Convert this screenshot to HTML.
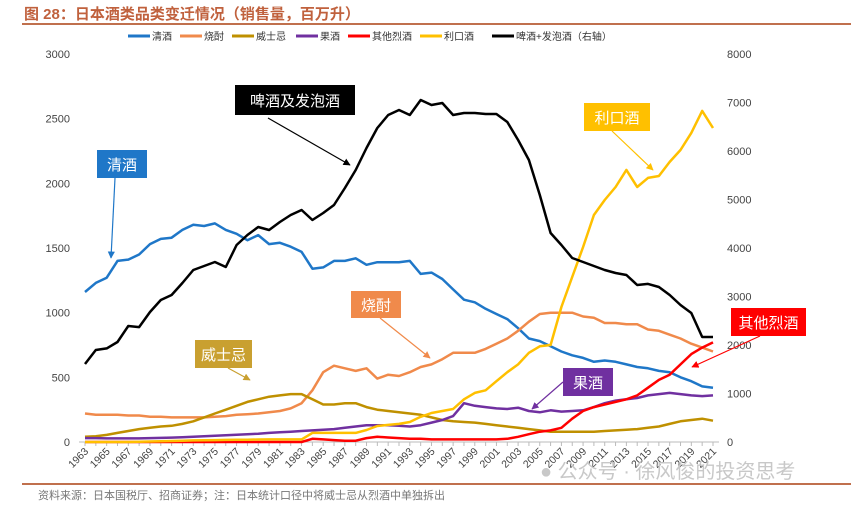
<!DOCTYPE html>
<html><head><meta charset="utf-8"><style>
body{margin:0;background:#fff;width:851px;height:507px;overflow:hidden;font-family:"Liberation Sans","Noto Sans CJK SC",sans-serif}
svg text{font-family:"Liberation Sans","Noto Sans CJK SC",sans-serif}
</style></head><body>
<svg id="c" width="851" height="507">
<defs><marker id="ah" viewBox="0 0 10 10" refX="9" refY="5" markerWidth="6" markerHeight="6" orient="auto-start-reverse"><path d="M0,0L10,5L0,10z" fill="context-stroke"/></marker></defs>
<text x="24" y="19" font-size="15" font-weight="bold" fill="#c0613d">图 28：日本酒类品类变迁情况（销售量，百万升）</text>
<line x1="22" y1="24" x2="851" y2="24" stroke="#c0704d" stroke-width="2"/>
<g id="legend"></g>
<g id="axes"></g>
<g id="series"></g>
<g id="notes"></g>
<text x="540" y="478" font-size="20" fill="#c8c8c8">● 公众号 · 徐风俊的投资思考</text>
<line x1="22" y1="484" x2="851" y2="484" stroke="#c0704d" stroke-width="2"/>
<text x="38" y="499" font-size="11" fill="#777">资料来源：日本国税厅、招商证券；注：日本统计口径中将威士忌从烈酒中单独拆出</text>
</svg>
<script>
const years=[];for(let y=1963;y<=2021;y++)years.push(y);
const leftTicks=[0,500,1000,1500,2000,2500,3000];
const rightTicks=[0,1000,2000,3000,4000,5000,6000,7000,8000];
const sake=[1160,1230,1270,1400,1410,1450,1530,1570,1580,1640,1680,1670,1690,1640,1610,1560,1600,1530,1540,1510,1470,1340,1350,1400,1400,1420,1370,1390,1390,1390,1400,1300,1310,1260,1180,1100,1080,1030,990,950,880,800,780,740,700,670,650,620,630,620,600,580,570,550,540,500,470,430,420];
const shochu=[220,210,210,210,205,205,195,195,190,190,190,190,195,200,210,215,220,230,240,260,300,400,540,590,570,550,570,490,520,510,540,580,600,640,690,690,690,720,760,800,860,930,990,1000,1000,1000,970,960,920,920,910,910,870,860,830,800,760,730,700];
const whisky=[40,45,55,70,85,100,110,120,125,140,160,190,220,250,280,310,330,350,360,370,370,330,290,290,300,300,270,250,240,230,220,210,190,170,160,155,150,140,130,120,110,100,90,80,80,80,80,80,85,90,95,100,110,120,140,160,170,180,165];
const fruit=[30,30,28,28,28,28,30,32,34,36,40,44,48,52,56,60,64,70,75,80,85,90,95,100,110,120,130,130,130,125,120,130,150,170,200,300,280,270,260,255,265,240,230,245,235,240,245,270,300,320,330,340,360,370,380,370,360,355,360];
const spirits=[0,0,0,0,0,0,0,0,0,0,0,0,0,0,0,0,0,0,0,0,0,25,20,15,10,10,30,40,35,30,25,25,20,20,20,20,20,20,20,25,40,60,80,90,110,180,240,270,290,310,330,360,420,480,520,600,680,730,770];
const liqueur=[0,0,0,0,0,2,4,6,8,10,12,14,15,16,17,18,19,20,20,20,20,70,70,70,70,70,93,124,132,140,155,195,224,240,255,330,380,400,470,540,600,690,740,750,1044,1276,1508,1755,1871,1972,2104,1972,2042,2057,2166,2258,2390,2560,2428];
const beer=[1608,1897,1930,2062,2392,2370,2680,2928,3031,3278,3546,3629,3711,3608,4062,4268,4433,4371,4536,4680,4784,4577,4722,4887,5237,5608,6062,6474,6742,6845,6742,7052,6948,6990,6742,6783,6783,6763,6763,6598,6227,5814,5093,4309,4062,3794,3711,3629,3546,3485,3443,3237,3260,3196,3031,2825,2660,2165,2165];
const NS='http://www.w3.org/2000/svg';
const X0=85,X1=713,Y0=442,YT=54;
const x=i=>X0+(X1-X0)*i/(years.length-1);
const yl=v=>Y0-(Y0-YT)*v/3000;
const yr=v=>Y0-(Y0-YT)*v/8000;
function mk(p,t,a){const e=document.createElementNS(NS,t);for(const k in a)e.setAttribute(k,a[k]);p.appendChild(e);return e;}
const axes=document.getElementById('axes');
const al=mk(axes,'line',{x1:X0-6,x2:X1+6,y1:Y0,y2:Y0,stroke:'#bbb'});


leftTicks.forEach(v=>{const t=mk(axes,'text',{x:70,y:yl(v)+4,'font-size':11,fill:'#444','text-anchor':'end'});t.textContent=v;

});
rightTicks.forEach(v=>{const t=mk(axes,'text',{x:727,y:yr(v)+4,'font-size':11,fill:'#444'});t.textContent=v;

});
years.forEach((yv,i)=>{mk(axes,'line',{x1:x(i),x2:x(i),y1:Y0,y2:Y0+4,stroke:'#bbb'});
if(i%2==0){const t=mk(axes,'text',{x:0,y:0,'font-size':10.5,fill:'#444','text-anchor':'end',transform:`translate(${x(i)+4},${Y0+10}) rotate(-45)`});t.textContent=yv;

}});
const ser=[['sake',sake,'#1f77c8',yl,'清酒'],['shochu',shochu,'#f08a4b',yl,'烧酎'],['whisky',whisky,'#bf9000',yl,'威士忌'],['fruit-wine',fruit,'#7030a0',yl,'果酒'],['other-spirits',spirits,'#ff0000',yl,'其他烈酒'],['liqueur',liqueur,'#ffc000',yl,'利口酒'],['beer',beer,'#000000',yr,'啤酒+发泡酒（右轴）']];
const sg=document.getElementById('series');
ser.forEach(s=>{const d=s[1].map((v,i)=>(i?'L':'M')+x(i).toFixed(1)+','+s[3](v).toFixed(1)).join('');
const p=mk(sg,'path',{d:d,fill:'none',stroke:s[2],'stroke-width':2.5,'stroke-linejoin':'round'});

});
const lg=document.getElementById('legend');let lx=128;
const lw=[52,52,64,52,72,72,120];
ser.forEach((s,i)=>{mk(lg,'line',{x1:lx,x2:lx+22,y1:36,y2:36,stroke:s[2],'stroke-width':3});
const t=mk(lg,'text',{x:lx+24,y:40,'font-size':10,fill:'#333'});t.textContent=s[4];

lx+=lw[i];});
const notes=document.getElementById('notes');
const ann=[['啤酒及发泡酒',235,85,120,30,'#000','#fff',268,118,350,165],['清酒',97,150,50,28,'#1f77c8','#fff',115,178,111,258],['利口酒',584,103,66,28,'#ffc000','#fff',612,131,653,170],['烧酎',351,291,50,27,'#f08a4b','#fff',380,318,430,358],['威士忌',195,340,57,28,'#c9a030','#fff',228,368,250,380],['果酒',563,368,50,28,'#7030a0','#fff',563,382,532,409],['其他烈酒',731,308,75,28,'#ff0000','#fff',760,336,692,367]];
ann.forEach(a=>{const l=mk(notes,'line',{x1:a[7],y1:a[8],x2:a[9],y2:a[10],stroke:a[5],'stroke-width':1.2,'marker-end':'url(#ah)'});


const r=mk(notes,'rect',{x:a[1],y:a[2],width:a[3],height:a[4],fill:a[5]});


const t=mk(notes,'text',{x:a[1]+a[3]/2,y:a[2]+a[4]/2+6,'font-size':15,fill:a[6],'text-anchor':'middle'});t.textContent=a[0];

});
</script>
</body></html>
